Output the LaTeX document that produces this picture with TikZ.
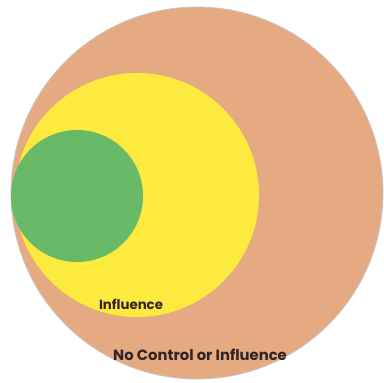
\documentclass[tikz,border=0pt]{standalone}
\usepackage{fontspec}
\setmainfont{Poppins}
\definecolor{outerc}{RGB}{230,170,130}
\definecolor{yellowc}{RGB}{253,234,62}
\definecolor{greenc}{RGB}{104,186,104}
\definecolor{textc}{RGB}{50,36,36}
\begin{document}
\begin{tikzpicture}[x=1pt,y=-1pt,
  lbl/.style={text=textc, inner sep=0pt}]
\useasboundingbox (0,0) rectangle (384,383);
\fill[white] (0,0) rectangle (384,383);
\node[circle, fill=outerc, draw=gray!45, line width=0.8pt, minimum size=372pt, inner sep=0pt] (outer) at (197,193) {};
\node[circle, fill=yellowc, minimum size=244pt, inner sep=0pt] (infl) at (137,195) {};
\node[circle, fill=greenc, minimum size=132pt, inner sep=0pt] (ctrl) at (77,196) {};
\node[lbl, font=\bfseries\fontsize{13.3}{15}\selectfont] (tinf) at (131,304) {Influence};
\node[lbl, font=\bfseries\fontsize{14.8}{17}\selectfont] (tno) at (200,355) {No Control or Influence};
\end{tikzpicture}
\end{document}
